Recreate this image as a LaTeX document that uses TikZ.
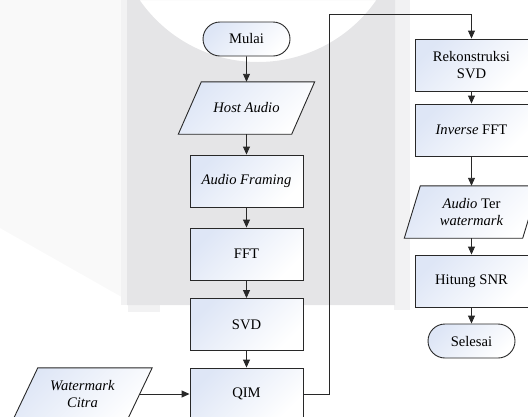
\documentclass[tikz,border=0pt]{standalone}
\usepackage{fontspec}
\setmainfont{Liberation Serif}
\usetikzlibrary{shapes.geometric,shapes.misc,arrows.meta}
\definecolor{wmgray}{RGB}{229,229,231}
\definecolor{wmlight}{RGB}{249,249,249}
\definecolor{wmmid}{RGB}{242,242,243}
\definecolor{boxblue}{RGB}{222,230,246}
\definecolor{linec}{RGB}{40,40,40}
\pgfdeclarelayer{wm}
\pgfdeclarelayer{bg}
\pgfsetlayers{wm,bg,main}
\tikzset{
  txt/.style={font=\fontsize{14.6}{17.5}\selectfont, align=center, inner sep=0pt},
  shapefill/.style={draw=linec, line width=0.9pt, top color=boxblue, bottom color=white, shading angle=45},
  procbox/.style={txt, shapefill, rectangle, minimum width=113, minimum height=52},
  termbox/.style={txt, shapefill, rounded rectangle, minimum width=87, minimum height=34},
  iobox/.style={txt, rectangle, minimum height=52},
  arr/.style={draw=linec, line width=0.9pt, -{Triangle[length=8pt,width=7pt]}},
  conn/.style={draw=linec, line width=0.9pt}
}
% parallelogram behind an invisible node: #1 node name, #2 half slant
\newcommand{\paragram}[2]{%
  \begin{pgfonlayer}{bg}
  \path[shapefill] ([xshift=#2]#1.north west) -- ([xshift=#2]#1.north east)
     -- ([xshift=-#2]#1.south east) -- ([xshift=-#2]#1.south west) -- cycle;
  \end{pgfonlayer}}
\begin{document}
\begin{tikzpicture}[x=1pt,y=-1pt]
\useasboundingbox (0,0) rectangle (528,416);
\clip (0,0) rectangle (528,416);
% faint background watermark
\begin{pgfonlayer}{wm}
\fill[wmlight] (0,0) -- (127,0) -- (127,300) -- (0,228) -- cycle;
\fill[wmmid] (121,0) rectangle (128,305);
\fill[wmmid] (128,300) rectangle (160,312);
\fill[wmmid] (394,0) rectangle (410,310);
\fill[wmgray, even odd rule] (127,0) rectangle (395,305) (258,-82) circle (144);
\end{pgfonlayer}
% main column
\node[termbox] (mulai) at (246.5,39) {Mulai};
\node[iobox, minimum width=113] (host) at (246.5,108) {\textit{Host Audio}};
\node[procbox] (frame) at (246.5,181) {\textit{Audio Framing}};
\node[procbox] (fft) at (246.5,254) {FFT};
\node[procbox] (svd) at (246.5,324.5) {SVD};
\node[procbox] (qim) at (246.5,394) {QIM};
\node[iobox, minimum width=114] (wc) at (82.5,394) {\textit{Watermark}\\\textit{Citra}};
% right column
\node[procbox] (rek) at (471.5,65) {Rekonstruksi\\SVD};
\node[procbox] (inv) at (471.5,130) {\textit{Inverse} FFT};
\node[iobox, minimum width=118] (atw) at (471.5,212) {\textit{Audio} Ter\\\textit{watermark}};
\node[procbox] (snr) at (471.5,281) {Hitung SNR};
\node[termbox] (sel) at (471.5,341) {Selesai};
\paragram{host}{11.5}
\paragram{wc}{12.5}
\paragram{atw}{8}
% connectors
\draw[arr] (mulai) -- (host);
\draw[arr] (host) -- (frame);
\draw[arr] (frame) -- (fft);
\draw[arr] (fft) -- (svd);
\draw[arr] (svd) -- (qim);
\draw[arr] (wc) -- (qim);
\coordinate (up) at (329,14);
\draw[conn] (qim.east) -| (up);
\draw[arr] (up) -| (rek.north);
\draw[arr] (rek) -- (inv);
\draw[arr] (inv) -- (atw);
\draw[arr] (atw) -- (snr);
\draw[arr] (snr) -- (sel);
\end{tikzpicture}
\end{document}
